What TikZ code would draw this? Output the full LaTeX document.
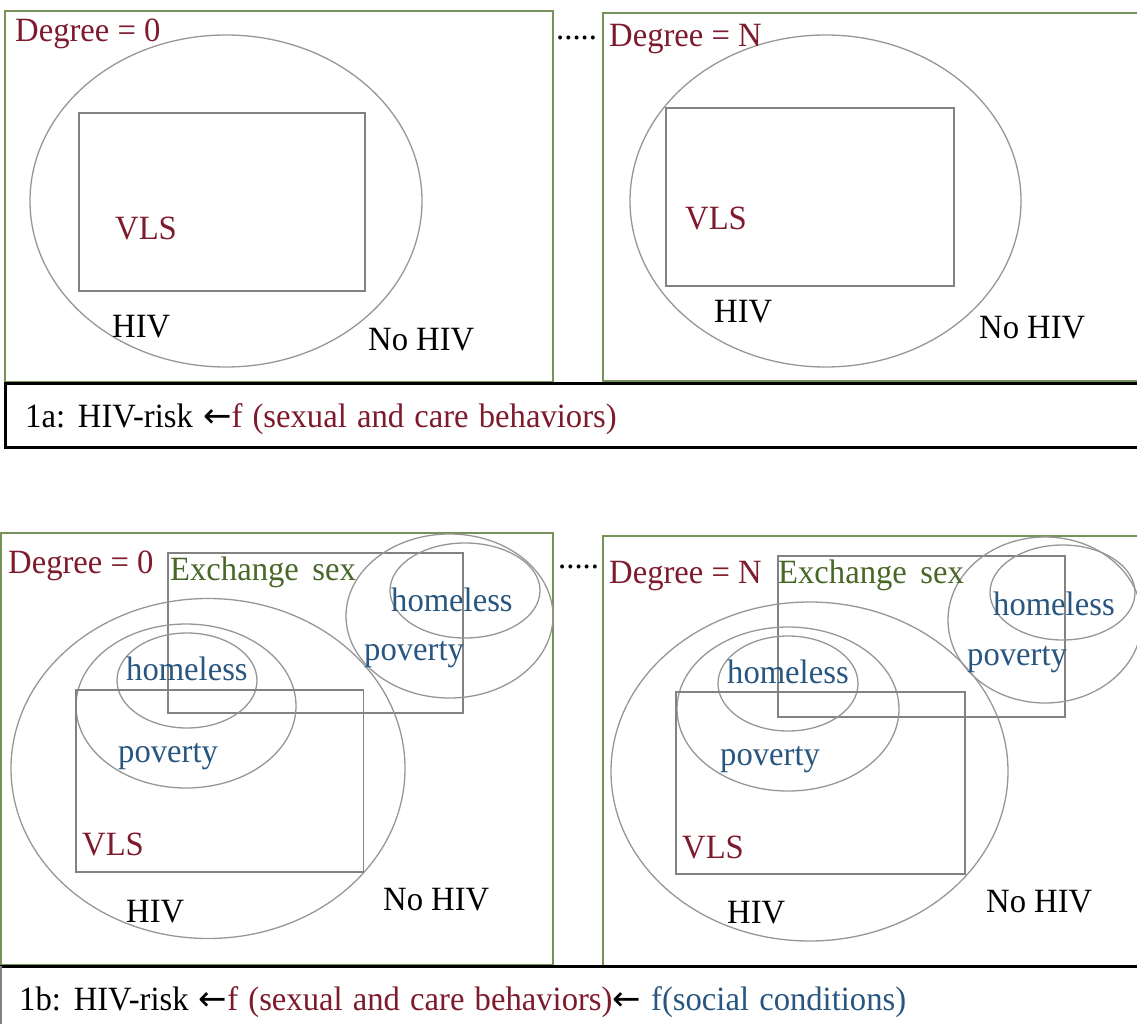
\documentclass[tikz,border=0pt]{standalone}
\usepackage{fontspec}
\setmainfont{Liberation Serif}[FakeStretch=0.96]
\newfontfamily\arrowfont{DejaVu Sans}
\definecolor{dred}{RGB}{125,26,44}
\definecolor{dblue}{RGB}{40,86,128}
\definecolor{tgreen}{RGB}{72,104,40}
\definecolor{bgreen}{RGB}{118,146,90}
\definecolor{egray}{RGB}{150,150,150}
\definecolor{rgray}{RGB}{130,130,130}
\newcommand{\arr}{{\arrowfont ←}}
\tikzset{
  panel/.style={draw=bgreen, line width=1.2pt},
  capbox/.style={draw=black, line width=3pt},
  ell/.style={draw=egray, line width=1.3pt},
  rct/.style={draw=rgray, line width=1.6pt},
  lbl/.style={inner sep=0pt, anchor=base west, font=\fontsize{34}{40}\selectfont},
  red/.style={lbl, text=dred},
  blu/.style={lbl, text=dblue},
  grn/.style={lbl, text=tgreen},
  blk/.style={lbl, text=black},
  captxt/.style={blk, execute at begin node={\spaceskip=0.3em plus 0.1em}}
}
\begin{document}
\begin{tikzpicture}[x=1pt,y=-1pt]
\useasboundingbox (0,0) rectangle (1137,1024);
% ---------- top row ----------
\draw[panel] (5,11) rectangle (553,382);
\draw[panel] (603,13) rectangle (1150,381);
\draw[capbox] (5,383) rectangle (1150,447);
% left
\draw[ell] (226,201) ellipse [x radius=196, y radius=166];
\draw[rct] (79,113) rectangle (365,291);
\node[red] (tldeg) at (15,42) {Degree = 0};
\node[red] (tlvls) at (115,240) {VLS};
\node[blk] (tlhiv) at (112,337) {HIV};
\node[blk] (tlno) at (368,350) {No HIV};
\node[blk] (tdots) at (556,40) {.....};
% right
\draw[ell] (825.5,201) ellipse [x radius=195.5, y radius=166];
\draw[rct] (666,108) rectangle (954,286);
\node[red] (trdeg) at (609,47) {Degree = N};
\node[red] (trvls) at (685,230) {VLS};
\node[blk] (trhiv) at (714,322) {HIV};
\node[blk] (trno) at (979,338) {No HIV};
% caption 1a
\node[captxt] (cap1a) at (25,427) {1a: HIV-risk \arr\textcolor{dred}{f (sexual and care behaviors)}};
% ---------- bottom row ----------
\draw[panel] (1,533) rectangle (553,965);
\draw[panel] (603,536) rectangle (1150,967);
% left
\draw[rct] (168,553) rectangle (463,713);
\draw[ell] (208,768.5) ellipse [x radius=197, y radius=170];
\draw[ell] (186,706) ellipse [x radius=110, y radius=82];
\draw[ell] (187,680.5) ellipse [x radius=70, y radius=47.5];
\draw[rct] (76,690) rectangle (363.5,872);
\draw[ell] (449.5,616) ellipse [x radius=103.5, y radius=82];
\draw[ell] (465,590.5) ellipse [x radius=75, y radius=47.5];
\node[red] (bldeg) at (8,573) {Degree = 0};
\node[grn] (blex) at (170,580) {Exchange\hspace{0.4em}sex};
\node[blu] (blhom) at (126,680) {homeless};
\node[blu] (blpov) at (118,762) {poverty};
\node[red] (blvls) at (82,855) {VLS};
\node[blk] (blhiv) at (126,922) {HIV};
\node[blk] (blno) at (383,910) {No HIV};
\node[blu] (blhom2) at (391,611) {homeless};
\node[blu] (blpov2) at (364,660) {poverty};
\node[blk] (bdots) at (558,568) {.....};
% right
\draw[rct] (778,556) rectangle (1065,717);
\draw[ell] (809.5,771.5) ellipse [x radius=198.5, y radius=169.5];
\draw[ell] (788,709) ellipse [x radius=111, y radius=82];
\draw[ell] (788,683.5) ellipse [x radius=70, y radius=47.5];
\draw[rct] (676,692) rectangle (965,874);
\draw[ell] (1045,620) ellipse [x radius=97, y radius=83];
\draw[ell] (1062.5,592.5) ellipse [x radius=72.5, y radius=47.5];
\node[red] (brdeg) at (609,583) {Degree = N};
\node[grn] (brex) at (778,583) {Exchange\hspace{0.4em}sex};
\node[blu] (brhom) at (727,683) {homeless};
\node[blu] (brpov) at (720,765) {poverty};
\node[red] (brvls) at (682,858) {VLS};
\node[blk] (brhiv) at (727,923) {HIV};
\node[blk] (brno) at (986,912) {No HIV};
\node[blu] (brhom2) at (993,615) {homeless};
\node[blu] (brpov2) at (967,665) {poverty};
% caption 1b
\draw[draw=black, line width=3pt] (0,966) -- (1137,966);
\draw[draw=rgray, line width=1.2pt] (1,966) -- (1,1030);
\node[captxt] (cap1b) at (19,1010) {1b: HIV-risk \arr\textcolor{dred}{f (sexual and care behaviors)}\arr\ \textcolor{dblue}{f(social conditions)}};
\end{tikzpicture}
\end{document}
